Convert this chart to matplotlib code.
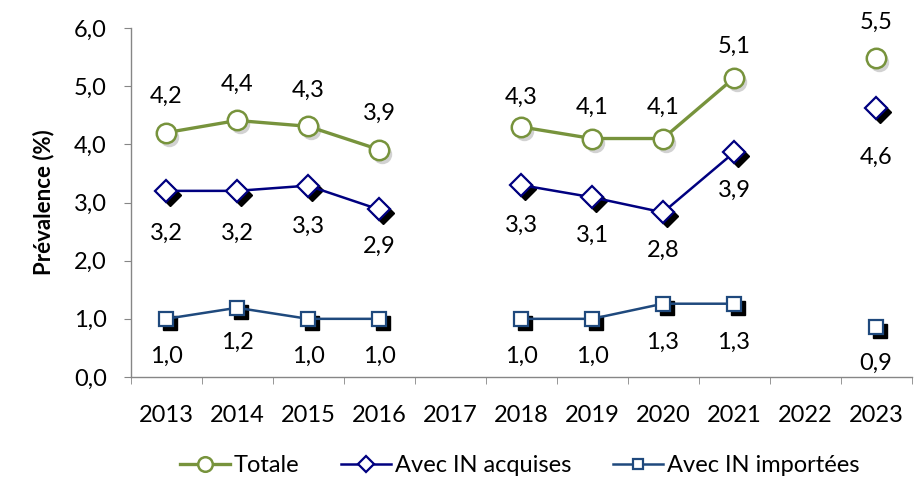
import numpy as np
import matplotlib
matplotlib.use("Agg")
import matplotlib.pyplot as plt
import matplotlib.transforms as mtransforms

plt.rcParams['font.family'] = ['Lato', 'DejaVu Sans']

years = ['2013', '2014', '2015', '2016', '2017', '2018', '2019', '2020', '2021', '2022', '2023']
nan = np.nan
totale = [4.2, 4.41, 4.31, 3.91, nan, 4.3, 4.1, 4.1, 5.14, nan, 5.48]
acquises = [3.2, 3.2, 3.29, 2.88, nan, 3.3, 3.09, 2.83, 3.86, nan, 4.62]
importees = [1.0, 1.19, 1.0, 1.0, nan, 1.0, 1.0, 1.26, 1.26, nan, 0.86]

# label offsets in pixels (dx, dy); positive dy = upwards
off_tot = [(0, 36), (0, 36), (0, 36), (0, 36), None, (0, 30), (0, 31), (0, 31), (0, 32), None, (0, 36)]
off_acq = [(0, -42), (0, -42), (0, -41), (0, -37), None, (0, -40), (0, -38), (0, -38), (0, -38), None, (0, -49)]
off_imp = [(0, -38), (0, -35), (0, -38), (0, -38), None, (0, -38), (0, -38), (0, -39), (0, -39), None, (0, -36)]

green = '#77933C'
navy = '#000080'
dblue = '#1F497D'
axcol = '#868686'
FS = 17

fig = plt.figure(figsize=(9.23, 4.83), dpi=100)
W, H = 923, 483
ax = fig.add_axes([130.5 / W, (H - 377) / H, (911.5 - 130.5) / W, (377 - 28) / H])

x = np.arange(len(years))

def shadow(dx, dy):
    return ax.transData + mtransforms.ScaledTranslation(dx / 100, -dy / 100, fig.dpi_scale_trans)

# Totale
ax.plot(x, totale, color='#808080', alpha=0.35, lw=0, marker='o', ms=14, mec='none',
        transform=shadow(3, 4), zorder=2)
ax.plot(x, totale, color=green, lw=2.4, marker='o', ms=14, mfc='white', mec=green, mew=1.8,
        zorder=3, label='Totale')
# Acquises
ax.plot(x, acquises, lw=0, marker='D', ms=11, mfc='black', mec='black',
        transform=shadow(4, 4), zorder=3)
ax.plot(x, acquises, color=navy, lw=1.8, marker='D', ms=11, mfc='white', mec=navy, mew=1.6,
        zorder=4, label='Avec IN acquises')
# Importees
ax.plot(x, importees, lw=0, marker='s', ms=10, mfc='black', mec='black',
        transform=shadow(4, 4), zorder=3)
ax.plot(x, importees, color=dblue, lw=1.8, marker='s', ms=10, mfc='white', mec=dblue, mew=1.6,
        zorder=4, label='Avec IN importées')

def fmt(v):
    return f"{v:.1f}".replace('.', ',')

for series, offs in ((totale, off_tot), (acquises, off_acq), (importees, off_imp)):
    for xi, v, o in zip(x, series, offs):
        if o is None or np.isnan(v):
            continue
        ax.annotate(fmt(v), (xi, v), xytext=o, textcoords='offset pixels',
                    ha='center', va='center', fontsize=FS, color='black', zorder=5)

ax.set_xlim(-0.5, len(years) - 0.5)
ax.set_ylim(0, 6)
ax.set_yticks(np.arange(0, 6.01, 1.0))
ax.set_yticklabels([fmt(v) for v in np.arange(0, 6.01, 1.0)], fontsize=FS)
ax.set_xticks(x)
ax.set_xticklabels(years, fontsize=FS)
ax.set_xticks(np.arange(-0.5, len(years), 1.0), minor=True)
ax.tick_params(axis='x', which='major', length=0, pad=20)
ax.tick_params(axis='x', which='minor', length=5, color=axcol, direction='out')
ax.tick_params(axis='y', length=5, color=axcol, direction='out', pad=12)

for s in ('top', 'right'):
    ax.spines[s].set_visible(False)
for s in ('left', 'bottom'):
    ax.spines[s].set_color(axcol)
    ax.spines[s].set_linewidth(1.0)

ax.set_ylabel('Prévalence (%)', fontsize=16, fontweight='bold', labelpad=14)

leg = fig.legend(loc='center', bbox_to_anchor=(0.563, (H - 466) / H), ncol=3, frameon=False,
                 fontsize=FS, handlelength=2.1, columnspacing=1.8, handletextpad=0.15,
                 markerscale=0.75)

fig.savefig('out.png', dpi=100)
